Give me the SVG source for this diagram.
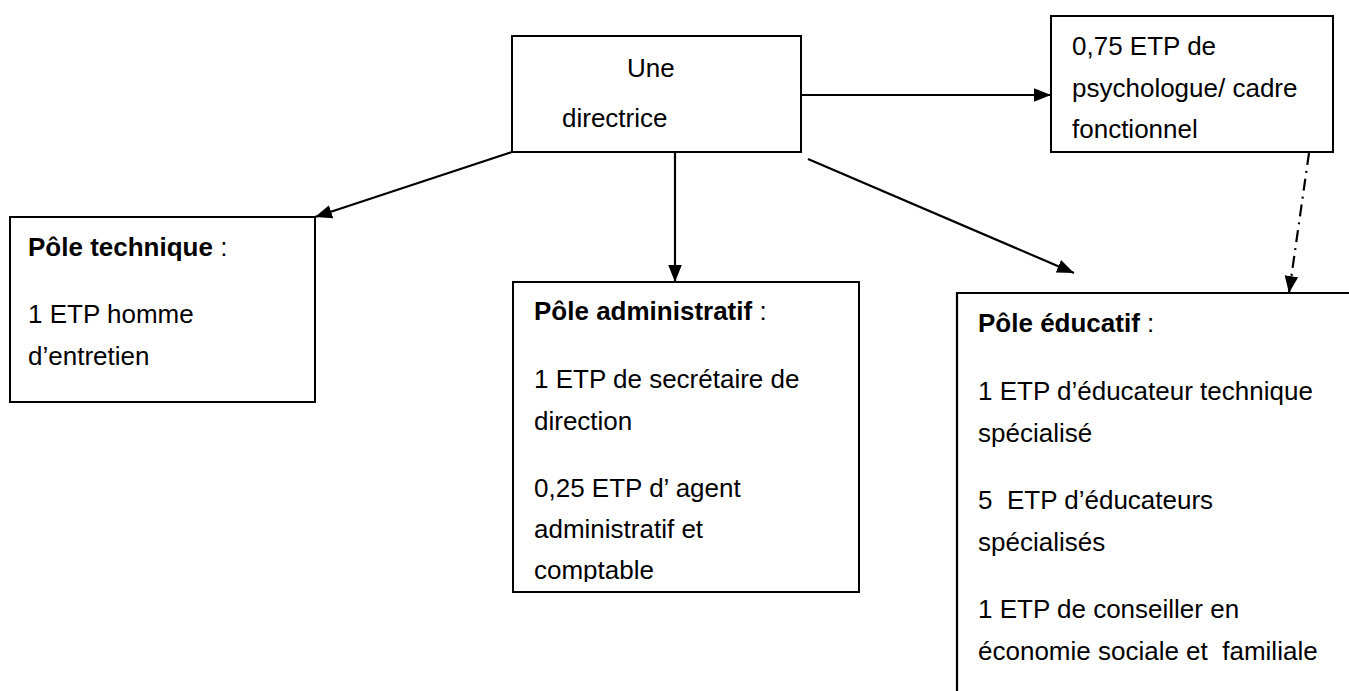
<svg xmlns="http://www.w3.org/2000/svg" width="1349" height="691" viewBox="0 0 1349 691">
<defs>
<style>
.box{fill:#fff;stroke:#000;stroke-width:2}
.t{font-family:"Liberation Sans",Arial,sans-serif;font-size:26px;fill:#000;white-space:pre}
.b{font-weight:bold}
.c{stroke:#000;stroke-width:2.2;fill:none}
</style>
<marker id="a" viewBox="0 0 10 10" refX="10" refY="5" markerWidth="17" markerHeight="17" markerUnits="userSpaceOnUse" orient="auto">
<path d="M0,1 L10,5 L0,9 Z" fill="#000"/>
</marker>
<clipPath id="clipAdm"><rect x="512" y="282" width="347" height="300"/></clipPath>
</defs>
<rect width="1349" height="691" fill="#fff"/>
<g id="n-directrice">
<rect class="box" x="512" y="36" width="289" height="116"/>
<text class="t" x="627" y="77">Une</text>
<text class="t" x="562" y="127">directrice</text>
</g>
<g id="n-psychologue">
<rect class="box" x="1051" y="16" width="282" height="136"/>
<text class="t" x="1072" y="55">0,75 ETP de</text>
<text class="t" x="1072" y="97">psychologue/ cadre</text>
<text class="t" x="1072" y="138">fonctionnel</text>
</g>
<g id="n-technique">
<rect class="box" x="10" y="217" width="305" height="185"/>
<text class="t" x="28" y="256"><tspan class="b">Pôle technique</tspan> :</text>
<text class="t" x="28" y="323">1 ETP homme</text>
<text class="t" x="28" y="365">d’entretien</text>
</g>
<g id="n-administratif">
<rect class="box" x="513" y="282" width="346" height="310"/>
<g clip-path="url(#clipAdm)">
<text class="t" x="534" y="320"><tspan class="b">Pôle administratif</tspan> :</text>
<text class="t" x="534" y="388">1 ETP de secrétaire de</text>
<text class="t" x="534" y="430">direction</text>
<text class="t" x="534" y="497">0,25 ETP d’ agent</text>
<text class="t" x="534" y="538">administratif et</text>
<text class="t" x="534" y="579">comptable</text>
</g>
</g>
<g id="n-educatif">
<path class="c" d="M957,691 V293 H1349"/>
<text class="t" x="978" y="332"><tspan class="b">Pôle éducatif</tspan> :</text>
<text class="t" x="978" y="400">1 ETP d’éducateur technique</text>
<text class="t" x="978" y="442">spécialisé</text>
<text class="t" x="978" y="509">5  ETP d’éducateurs</text>
<text class="t" x="978" y="551">spécialisés</text>
<text class="t" x="978" y="618">1 ETP de conseiller en</text>
<text class="t" x="978" y="660">économie sociale et  familiale</text>
</g>
<g id="connectors">
<line class="c" x1="801" y1="95" x2="1051" y2="95" marker-end="url(#a)"/>
<line class="c" x1="512" y1="152" x2="315" y2="217" marker-end="url(#a)"/>
<line class="c" x1="675" y1="152" x2="675" y2="282" marker-end="url(#a)"/>
<line class="c" x1="808" y1="159" x2="1074" y2="273" marker-end="url(#a)"/>
<line class="c" x1="1309" y1="153" x2="1289" y2="293" stroke-dasharray="12,6,2,6" marker-end="url(#a)"/>
</g>
</svg>
